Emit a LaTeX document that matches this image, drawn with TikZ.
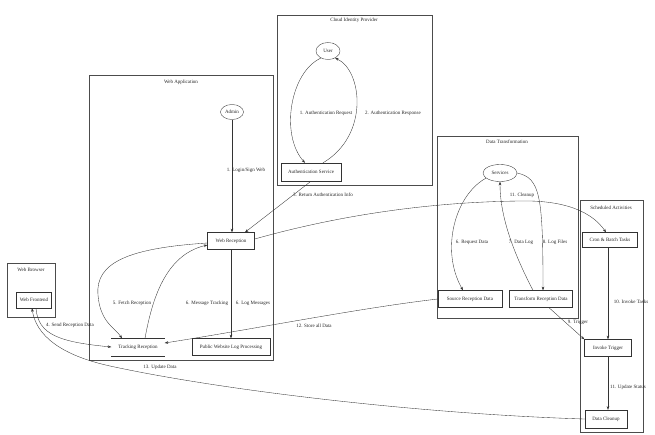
\documentclass[tikz,border=0pt]{standalone}
\usepackage{fontspec}
\setmainfont{Liberation Serif}
\usetikzlibrary{shapes.geometric,arrows.meta}
\begin{document}
\begin{tikzpicture}[x=1pt,y=-1pt,
  every node/.style={font=\fontsize{5}{6}\selectfont, inner sep=0pt, text=black!85},
  box/.style={draw=black!80, line width=0.35pt, minimum height=17pt},
  proc/.style={draw=black!80, ellipse, line width=0.35pt},
  clus/.style={draw=black!70, line width=0.35pt},
  flow/.style={-{Stealth[length=3.6pt,width=2.6pt]}, draw=black!80, line width=0.35pt}]
\useasboundingbox (0,0) rectangle (655,434);
% clusters
\draw[clus] (277,15) rectangle (432,185);
\node (ctop) at (354,20) {Cloud Identity Provider};
\draw[clus] (89,75) rectangle (273,360);
\node (cleft) at (181,82) {Web Application};
\draw[clus] (7,263) rectangle (55,317);
\node (cweb) at (31,270) {Web Browser};
\draw[clus] (437,136) rectangle (578,318);
\node (cmid) at (507,142) {Data Transformation};
\draw[clus] (580,200) rectangle (643,432);
\node (cright) at (611,208) {Scheduled Activities};
% nodes
\node[proc, minimum width=24pt, minimum height=17pt] (user) at (328,51) {User};
\node[box, minimum width=60pt, minimum height=18pt] (auth) at (311,172) {Authentication Service};
\node[proc, minimum width=23pt, minimum height=15pt] (admin) at (232,112) {Admin};
\node[box, minimum width=47pt] (webapp) at (231,241) {Web Reception};
\node[minimum width=53pt, minimum height=17pt] (mp) at (138,347) {Tracking Reception};
\draw[draw=black!80, line width=0.35pt] (mp.north west) -- (mp.north east) (mp.south west) -- (mp.south east);
\node[box, minimum width=78pt] (public) at (231,347) {Public Website Log Processing};
\node[box, minimum width=35pt, minimum height=16pt] (portal) at (34,300) {Web Frontend};
\node[proc, minimum width=34pt, minimum height=17pt] (services) at (500,173) {Services};
\node[box, minimum width=64pt] (source) at (470,299) {Source Reception Data};
\node[box, minimum width=63pt] (transform) at (541,299) {Transform Reception Data};
\node[box, minimum width=55pt, minimum height=15pt] (cron) at (610,240) {Cron \& Batch Tasks};
\node[box, minimum width=47pt] (trigger) at (608,348) {Invoke Trigger};
\node[box, minimum width=42pt, minimum height=18pt] (cleanup) at (606,419) {Data Cleanup};
% edges
\draw[flow] (user.225) .. controls (290,72) and (280,135) .. ([xshift=-6pt]auth.north);
\node (l1) at (326,113) {1. Authentication Request};
\draw[flow] ([xshift=12pt]auth.north) .. controls (370,135) and (362,70) .. (user.315);
\node (l2) at (393,113) {2. Authentication Response};
\draw[flow] (admin.south) -- ([xshift=1pt]webapp.north);
\node (l3) at (246,170) {1. Login/Sign Web};
\draw[flow] (auth.south) -- ([xshift=14pt]webapp.north);
\node (l4) at (323,195) {3. Return Authentication Info};
\draw[flow] ([yshift=-2pt]webapp.west) .. controls (130,248) and (95,262) .. (98,295) .. controls (100,322) and (115,328) .. ([xshift=-16pt]mp.north);
\draw[flow] ([xshift=7pt]mp.north) .. controls (152,300) and (165,255) .. ([yshift=-4pt]webapp.west);
\node (l5) at (132,303) {5. Fetch Reception};
\draw[flow] (webapp.south) -- (public.north);
\node (l6) at (207,303) {6. Message Tracking};
\node (l7) at (253,303) {6. Log Messages};
\draw[flow] ([xshift=2pt]portal.south) .. controls (38,335) and (60,342) .. (mp.west);
\node (l8) at (70,325) {4. Send Reception Data};
\draw[flow] (cleanup.west) .. controls (420,414) and (220,390) .. (110,366) .. controls (60,355) and (36,335) .. ([xshift=-2pt]portal.south);
\node (l9) at (160,367) {13. Update Data};
\draw[flow] (source.west) .. controls (360,308) and (260,328) .. ([yshift=4pt]mp.east);
\node (l10) at (314,326) {12. Store all Data};
\draw[flow] (services.200) .. controls (455,195) and (440,250) .. ([xshift=-7pt]source.north);
\node (l11) at (472,242) {6. Request Data};
\draw[flow] ([xshift=-8pt]transform.north) .. controls (512,250) and (500,215) .. (services.south);
\node (l12) at (521,242) {7. Data Log};
\draw[flow] (services.east) .. controls (540,178) and (543,195) .. ([xshift=2pt]transform.north);
\node (l13) at (555,242) {8. Log Files};
\draw[flow] ([yshift=2pt]webapp.east) .. controls (340,215) and (430,202) .. (520,201) .. controls (565,200) and (592,212) .. ([xshift=-4pt]cron.north);
\node (l14) at (522,195) {11. Cleanup};
\draw[flow] ([xshift=8pt]transform.south) -- (trigger.north west);
\node (l15) at (578,322) {9. Trigger};
\draw[flow] ([xshift=-2pt]cron.south) -- (trigger.north);
\node (l16) at (631,302) {10. Invoke Tasks};
\draw[flow] (trigger.south) -- (trigger.south |- cleanup.north);
\node (l17) at (628,387) {11. Update Status};
\end{tikzpicture}
\end{document}
